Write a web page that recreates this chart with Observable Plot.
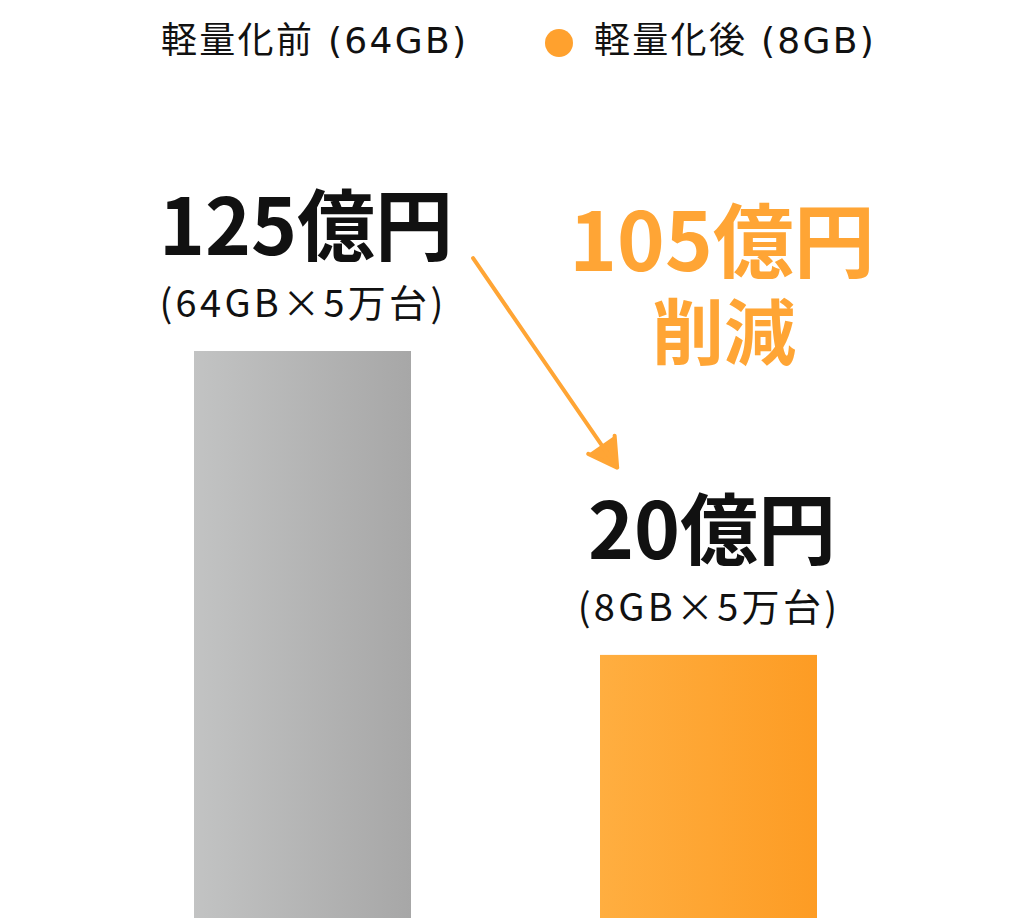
<!DOCTYPE html>
<html><head><meta charset="utf-8">
<script src="https://cdn.jsdelivr.net/npm/d3@7"></script>
<script src="https://cdn.jsdelivr.net/npm/@observablehq/plot@0.6"></script>
<style>
body{margin:0;background:#fff;font-family:"Noto Sans CJK JP",sans-serif;}
#wrap{position:relative;width:1024px;height:918px;overflow:hidden;background:#fff;}
#legend{position:relative;height:90px;}
.item{position:absolute;top:23px;height:36px;line-height:36px;font-size:36px;color:#111;white-space:nowrap;
  font-family:"DejaVu Sans","Noto Sans CJK JP",sans-serif;letter-spacing:2.3px;}
.swatch{position:absolute;top:29px;width:28px;height:28px;border-radius:50%;background:#ffa12e;}
#chart svg{display:block;}
</style></head><body>
<div id="wrap"><div id="legend"></div><div id="chart"></div></div>
<script>
// ---- data ----
const categories = ["軽量化前", "軽量化後"];
const capacities = ["64GB", "8GB"];
const costs = [125, 20];           // 億円
const unitCount = "5万台";
const legendLabels = ["軽量化前 (64GB)", "軽量化後 (8GB)"];
const barFills = ["url(#gradGray)", "url(#gradOrange)"];
const savingWord = "削減";
// arrow annotation endpoints (in cost units along the line between bars)
const arrowFromTo = [384, 31.3];

// ---- legend ----
const legend = d3.select("#legend");
legend.append("div").attr("class","item").style("left","161px").text(legendLabels[0]);
legend.append("div").attr("class","swatch").style("left","545px");
legend.append("div").attr("class","item").style("left","594px").text(legendLabels[1]);

// ---- chart ----
const data = categories.map((c, i) => ({
  category: c, cost: costs[i],
  label: `${costs[i]}億円`,
  detail: `(${capacities[i]}×${unitCount})`,
  fill: barFills[i]
}));
const saving = costs[0] - costs[1];
const orange = "#ffa535";

const plot = Plot.plot({
  width: 1024, height: 828,
  marginTop: 261, marginBottom: 0, marginLeft: 194, marginRight: 206,
  x: {domain: categories, paddingInner: 0.465, paddingOuter: 0, axis: null},
  y: {type: "pow", exponent: 0.419, domain: [0, 125], axis: null},
  color: {type: "identity"},
  style: {fontFamily: "'Noto Sans CJK JP', sans-serif", background: "white", overflow: "visible"},
  marks: [
    Plot.barY(data, {x: "category", y: "cost", fill: d => d.fill}),
    Plot.text(data, {x: "category", y: "cost", text: "label", dy: -121, dx: 3, lineAnchor: "middle",
      fontSize: 78, fontWeight: "bold", fill: "#111"}),
    Plot.text(data, {x: "category", y: "cost", text: "detail", dy: -47, dx: 0, lineAnchor: "middle",
      fontSize: 38, fill: "#111"}),
    Plot.text([saving], {x: () => categories[1], y: () => costs[1], text: d => `${d}億円`,
      dx: 13, dy: -410, lineAnchor: "middle", fontSize: 81, fontWeight: "bold", fill: orange}),
    Plot.text([savingWord], {x: () => categories[1], y: () => costs[1], text: d => d,
      dx: 15, dy: -319, lineAnchor: "middle", fontSize: 72, fontWeight: "bold", fill: orange}),
    Plot.arrow([0], {x1: () => categories[0], y1: () => arrowFromTo[0],
      x2: () => categories[1], y2: () => arrowFromTo[1],
      insetStart: 300, insetEnd: 162, bend: 0,
      stroke: orange, fill: orange, strokeWidth: 4, headLength: 12, headAngle: 60})
  ]
});

d3.select(plot).selectAll("text")
  .filter(function() { return this.textContent.startsWith("("); })
  .attr("letter-spacing", "3.3px");

const defs = d3.select(plot).insert("defs", ":first-child");
const g1 = defs.append("linearGradient").attr("id", "gradGray").attr("x1", "0").attr("x2", "1").attr("y1", "0").attr("y2", "0");
g1.append("stop").attr("offset", "0").attr("stop-color", "#c2c3c3");
g1.append("stop").attr("offset", "1").attr("stop-color", "#a7a7a7");
const g2 = defs.append("linearGradient").attr("id", "gradOrange").attr("x1", "0").attr("x2", "1").attr("y1", "0").attr("y2", "0");
g2.append("stop").attr("offset", "0").attr("stop-color", "#ffae40");
g2.append("stop").attr("offset", "1").attr("stop-color", "#fd9c24");

document.getElementById("chart").appendChild(plot);
</script>
</body></html>
